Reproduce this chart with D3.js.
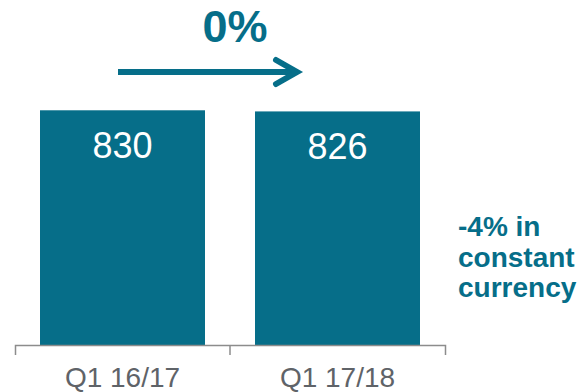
<!DOCTYPE html>
<html>
<head>
<meta charset="utf-8">
<script src="https://cdn.jsdelivr.net/npm/d3@7"></script>
<style>
  body { margin: 0; background: #fff; }
  svg { display: block; font-family: Arial, "Liberation Sans", sans-serif; }
</style>
</head>
<body>
<svg></svg>
<script>
let categories = ["Q1 16/17", "Q1 17/18"]
let values = [830, 826]
let growthLabel = "0%"
let noteLines = ["-4% in", "constant", "currency"]

let width = 580
let height = 392
let baseY = 345
let teal = "#066e89"

let svg = d3.select("svg")
    .attr("width", width)
    .attr("height", height)

// x scale: ticks sit at band edges, bars fill the middle
let xScale = d3.scaleBand()
    .domain(categories)
    .range([15, 445])
    .paddingInner(0.2326)
    .paddingOuter(0.1163)

let yScale = d3.scaleLinear()
    .domain([0, 1220])
    .range([baseY, 0])

// bars
svg.selectAll("rect.bar")
    .data(values)
    .enter()
    .append("rect")
    .attr("class", "bar")
    .attr("x", (d, i) => xScale(categories[i]))
    .attr("y", (d) => yScale(d))
    .attr("width", xScale.bandwidth())
    .attr("height", (d) => baseY - yScale(d))
    .attr("fill", teal)

// value labels inside bars
svg.selectAll("text.val")
    .data(values)
    .enter()
    .append("text")
    .attr("class", "val")
    .attr("x", (d, i) => xScale(categories[i]) + xScale.bandwidth() / 2)
    .attr("y", (d) => yScale(d) + 48)
    .attr("text-anchor", "middle")
    .attr("fill", "#fff")
    .style("font-size", "36px")
    .text((d) => d)

// x axis
let xAxis = d3.axisBottom(xScale).tickSize(0).tickSizeOuter(10).tickPadding(32)
let gx = svg.append("g")
    .attr("transform", "translate(0," + baseY + ")")
    .call(xAxis)
gx.select(".domain").attr("stroke", "#8c8c8c").attr("stroke-width", 1.5)
gx.selectAll("text")
    .attr("fill", "#5f6368")
    .style("font-size", "28px")
    .style("font-family", "Arial, 'Liberation Sans', sans-serif")
    .attr("dy", "0.36em")

// middle tick between the two categories
let step = xScale.step()
let midX = xScale(categories[1]) - xScale.paddingInner() * step / 2
gx.append("line")
    .attr("x1", midX).attr("x2", midX)
    .attr("y1", 0).attr("y2", 10)
    .attr("stroke", "#8c8c8c")
    .attr("stroke-width", 1.5)

// growth arrow
let arrowY = 72
let x0 = 118, x1 = 299
svg.append("line")
    .attr("x1", x0).attr("x2", x1 - 4)
    .attr("y1", arrowY).attr("y2", arrowY)
    .attr("stroke", teal)
    .attr("stroke-width", 6)
svg.append("path")
    .attr("d", "M" + (x1 - 23) + "," + (arrowY - 12) + "L" + (x1 - 2) + "," + arrowY + "L" + (x1 - 23) + "," + (arrowY + 12))
    .attr("fill", "none")
    .attr("stroke", teal)
    .attr("stroke-width", 6)
    .attr("stroke-linecap", "round")

svg.append("text")
    .attr("x", 235)
    .attr("y", 42)
    .attr("text-anchor", "middle")
    .attr("fill", teal)
    .style("font-size", "45px")
    .style("font-weight", "bold")
    .text(growthLabel)

// side note
svg.selectAll("text.note")
    .data(noteLines)
    .enter()
    .append("text")
    .attr("class", "note")
    .attr("x", 458)
    .attr("y", (d, i) => 236 + i * 30.5)
    .attr("fill", teal)
    .style("font-size", "28px")
    .style("font-weight", "bold")
    .text((d) => d)
</script>
</body>
</html>
